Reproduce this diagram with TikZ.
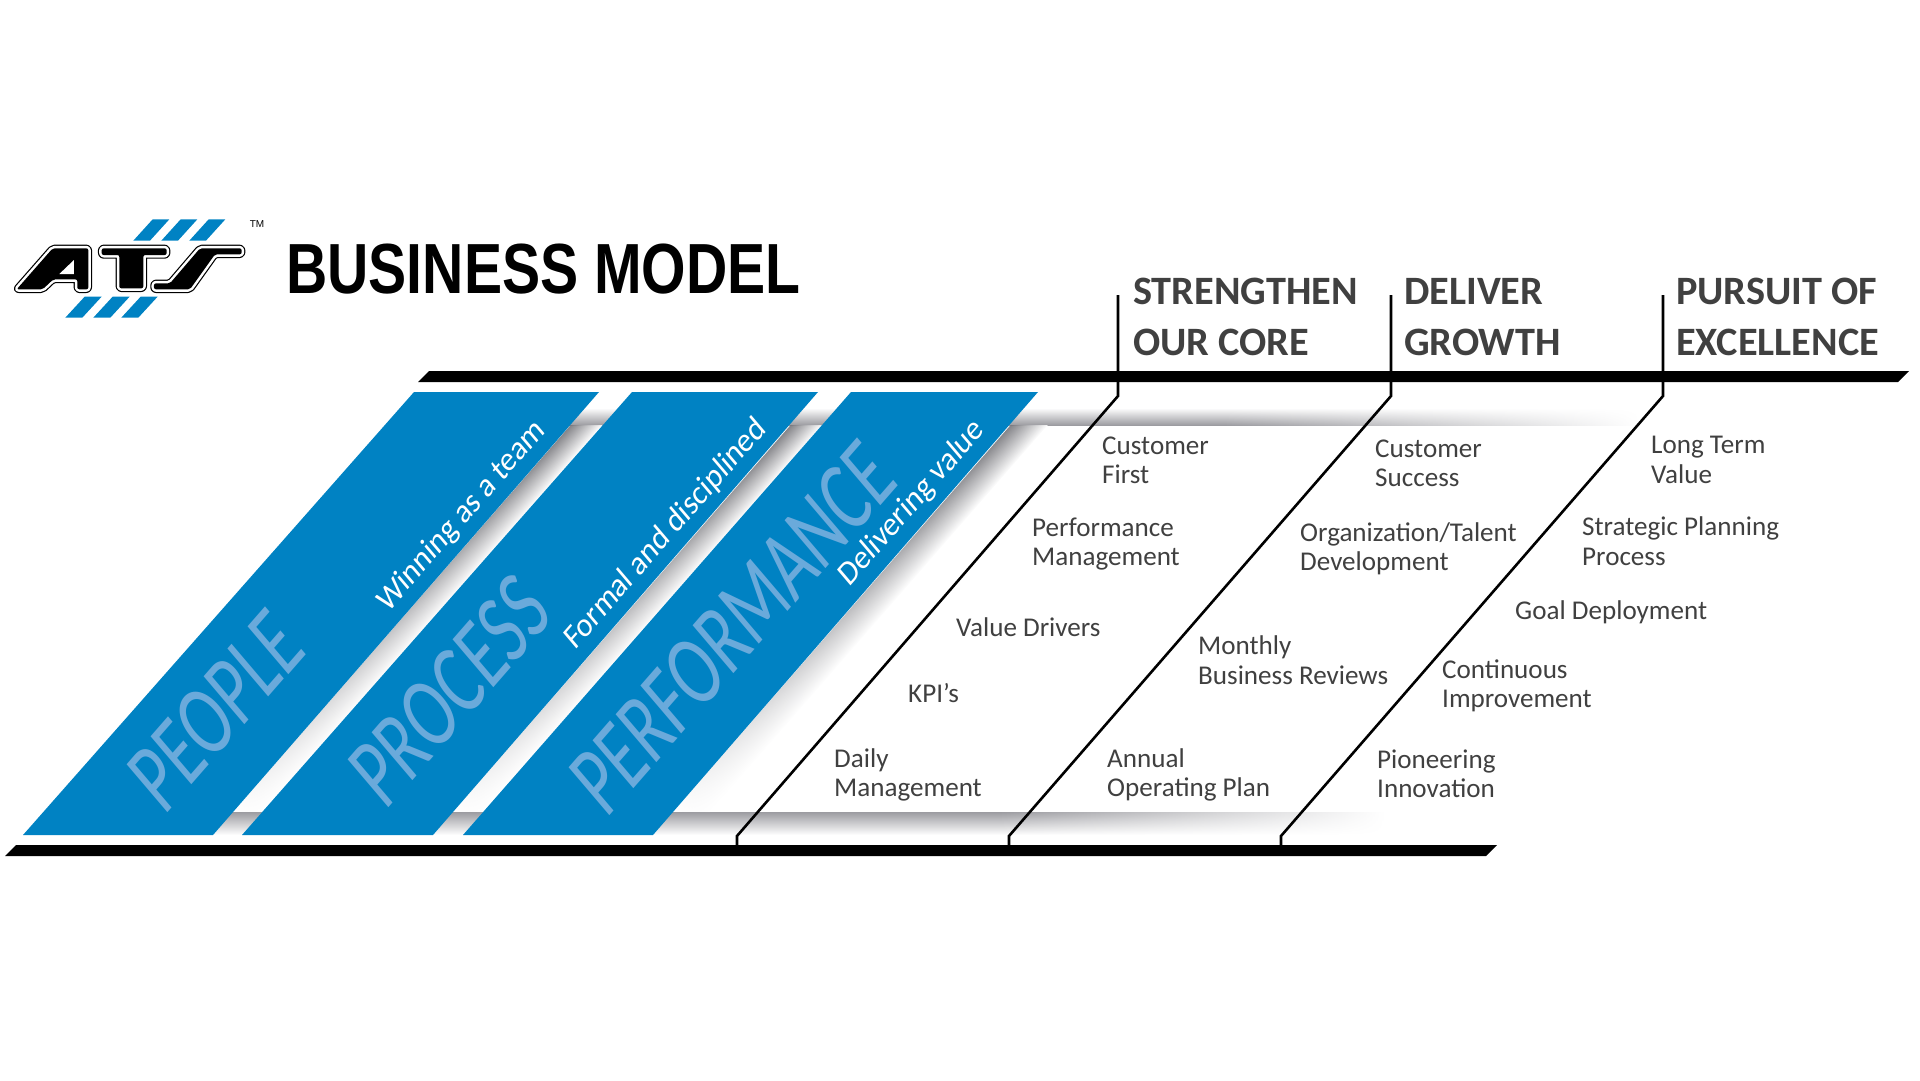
\documentclass[tikz,border=0pt]{standalone}
\usepackage{fontspec}
\setmainfont{Carlito}
\newfontfamily\slantfont[FakeSlant=0.15]{Carlito}
\newfontfamily\ghostfont[FakeSlant=0.15,FakeStretch=0.73]{Carlito}
\newfontfamily\titlefont[FakeStretch=0.805]{Liberation Sans}
\newfontfamily\tmfont{Liberation Sans}
\usetikzlibrary{fadings}
\definecolor{atsblue}{HTML}{0082C3}
\definecolor{ghostblue}{HTML}{6AAADB}
\definecolor{textgray}{HTML}{404040}
\definecolor{bandgray}{HTML}{9C9CA1}
\definecolor{shadowgray}{HTML}{77777C}
\tikzfading[name=longfade, left color=transparent!0, middle color=transparent!0, right color=transparent!100]
\tikzfading[name=endfade, left color=transparent!0, right color=transparent!100]

\begin{document}
\begin{tikzpicture}[x=1pt,y=-1pt]
\tikzstyle{panel}=[fill=atsblue]
\tikzstyle{bar}=[fill=black]
\tikzstyle{divider}=[draw=black, line width=2.6pt, line join=miter]
\tikzstyle{item}=[anchor=west, align=left, inner sep=0pt, text=textgray, font=\fontsize{27.1}{29.4}\selectfont]
\tikzstyle{heading}=[anchor=west, align=left, inner sep=0pt, text=textgray, font=\fontsize{40.3}{51.5}\selectfont\bfseries]
\tikzstyle{ghost}=[rotate=48.9, inner sep=0pt, text=ghostblue, font=\fontsize{97}{97}\selectfont\ghostfont]
\tikzstyle{motto}=[rotate=48.9, inner sep=0pt, text=white, font=\fontsize{32}{32}\selectfont\slantfont]
\tikzstyle{strip}=[top color=shadowgray, bottom color=white, path fading=longfade, fading angle=180]
\tikzstyle{topband}=[top color=white, bottom color=bandgray]
\tikzstyle{lowband}=[top color=bandgray, bottom color=white]
\tikzstyle{letter}=[line join=round, rounded corners=2pt]
\useasboundingbox (0,0) rectangle (1920,1080);

\shade [topband] (540,408) rectangle (1225,425);
\shade [topband, path fading=endfade] (1225,408) rectangle (1640,425);
\shade [lowband] (190,812) rectangle (1000,835);
\shade [lowband, path fading=endfade] (1000,812) rectangle (1385,835);

\begin{scope}
\clip (0,425) rectangle (1920,812);
\begin{scope}[transform canvas={shift={(213,835)},rotate=48.9}]
\shade [strip] (30,0) rectangle (600,24);
\end{scope}
\begin{scope}[transform canvas={shift={(433,835)},rotate=48.9}]
\shade [strip] (30,0) rectangle (600,24);
\end{scope}
\begin{scope}[transform canvas={shift={(653,835)},rotate=48.9}]
\shade [strip] (30,0) rectangle (600,28);
\end{scope}
\end{scope}

\fill [panel] (23,835) -- (213,835) -- (599,392) -- (414,392) -- cycle;
\fill [panel] (242,835) -- (433,835) -- (818,392) -- (632,392) -- cycle;
\fill [panel] (463,835) -- (653,835) -- (1038,392) -- (851,392) -- cycle;

\node (people) [ghost] at (213,714) {PEOPLE};
\node (process) [ghost] at (447,694) {PROCESS};
\node (performance) [ghost] at (730,631) {PERFORMANCE};
\node (team) [motto] at (461,517) {Winning as a team};
\node (formal) [motto] at (665,535) {Formal and disciplined};
\node (value) [motto] at (911,504) {Delivering value};

\fill [bar] (429,371) -- (1909,371) -- (1898,382) -- (418,382) -- cycle;
\fill [bar] (16,845) -- (1497,845) -- (1486,856) -- (5,856) -- cycle;

\coordinate (coreTop) at (1118,295);
\coordinate (coreBend) at (1118,396);
\coordinate (coreFoot) at (737,836);
\coordinate (coreEnd) at (737,845);
\coordinate (growthTop) at (1391,295);
\coordinate (growthBend) at (1391,396);
\coordinate (growthFoot) at (1009,836);
\coordinate (growthEnd) at (1009,845);
\coordinate (pursuitTop) at (1663,295);
\coordinate (pursuitBend) at (1663,396);
\coordinate (pursuitFoot) at (1281,836);
\coordinate (pursuitEnd) at (1281,845);
\draw [divider] (coreTop) -- (coreBend) -- (coreFoot) -- (coreEnd);
\draw [divider] (growthTop) -- (growthBend) -- (growthFoot) -- (growthEnd);
\draw [divider] (pursuitTop) -- (pursuitBend) -- (pursuitFoot) -- (pursuitEnd);

\node (core) [heading] at (1133,317) {STRENGTHEN\\OUR CORE};
\node (growth) [heading] at (1404,317) {DELIVER\\GROWTH};
\node (pursuit) [heading] at (1676,317) {PURSUIT OF\\EXCELLENCE};

\node (first) [item] at (1102,460) {Customer\\First};
\node (perfman) [item] at (1032,544) {Performance\\Management};
\node (drivers) [item] at (956,627) {Value Drivers};
\node (kpi) [item] at (908,693) {KPI’s};
\node (daily) [item] at (834,775) {Daily\\Management};

\node (success) [item] at (1375,463) {Customer\\Success};
\node (talent) [item] at (1300,549) {Organization/Talent\\Development};
\node (reviews) [item] at (1198,660) {Monthly\\Business Reviews};
\node (annual) [item] at (1107,775) {Annual\\Operating Plan};

\node (longterm) [item] at (1651,460) {Long Term\\Value};
\node (strategic) [item] at (1582,541) {Strategic Planning\\Process};
\node (goal) [item] at (1515,612) {Goal Deployment};
\node (improve) [item] at (1442,686) {Continuous\\Improvement};
\node (innovate) [item] at (1377,774) {Pioneering\\Innovation};

\node (title) [anchor=base west, inner sep=0pt, font=\fontsize{71}{71}\selectfont\titlefont\bfseries] at (286,293) {BUSINESS MODEL};
\node (tm) [inner sep=0pt, font=\fontsize{10}{10}\selectfont\tmfont] at (257,224) {TM};

\begin{scope}[shift={(0,200)}, x=0.3333pt, y=-0.3333pt]
\fill [panel] (400,122) -- (458,58) -- (508,58) -- (450,122) -- cycle;
\fill [panel] (484,122) -- (542,58) -- (592,58) -- (534,122) -- cycle;
\fill [panel] (568,122) -- (626,58) -- (676,58) -- (618,122) -- cycle;
\fill [panel] (196,353) -- (254,290) -- (305,290) -- (247,353) -- cycle;
\fill [panel] (280,353) -- (338,290) -- (389,290) -- (331,353) -- cycle;
\fill [panel] (364,353) -- (422,290) -- (473,290) -- (415,353) -- cycle;

\draw [letter, line width=7.4pt] (50,268) -- (158,145) -- (265,145) -- (265,268) -- (232,268) -- (232,238) -- (160,238) -- (128,268) -- cycle;
\draw [letter, white, line width=5pt] (50,268) -- (158,145) -- (265,145) -- (265,268) -- (232,268) -- (232,238) -- (160,238) -- (128,268) -- cycle;
\fill [letter] (50,268) -- (158,145) -- (265,145) -- (265,268) -- (232,268) -- (232,238) -- (160,238) -- (128,268) -- cycle;
\fill [white] (178,222) -- (222,180) -- (222,222) -- cycle;

\draw [letter, line width=7.4pt] (305,145) -- (500,145) -- (500,165) -- (430,165) -- (430,265) -- (358,265) -- (358,165) -- (305,165) -- cycle;
\draw [letter, white, line width=5pt] (305,145) -- (500,145) -- (500,165) -- (430,165) -- (430,265) -- (358,265) -- (358,165) -- (305,165) -- cycle;
\fill [letter] (305,145) -- (500,145) -- (500,165) -- (430,165) -- (430,265) -- (358,265) -- (358,165) -- (305,165) -- cycle;

\draw [letter, line width=7.4pt] (600,145) -- (725,145) -- (725,163) -- (645,163) -- (570,268) -- (462,268) -- (462,250) -- (510,250) -- cycle;
\draw [letter, white, line width=5pt] (600,145) -- (725,145) -- (725,163) -- (645,163) -- (570,268) -- (462,268) -- (462,250) -- (510,250) -- cycle;
\fill [letter] (600,145) -- (725,145) -- (725,163) -- (645,163) -- (570,268) -- (462,268) -- (462,250) -- (510,250) -- cycle;
\end{scope}
\end{tikzpicture}
\end{document}
